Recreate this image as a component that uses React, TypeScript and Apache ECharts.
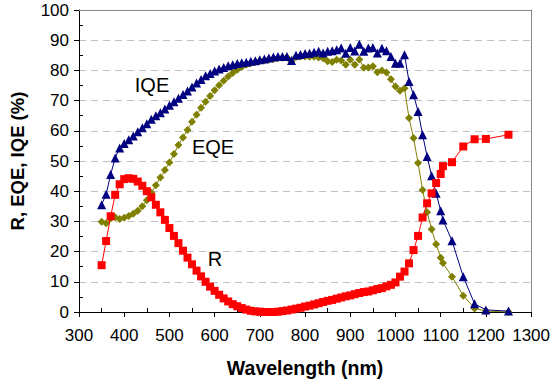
import React, { useEffect, useRef } from "react";
import * as echarts from "echarts";

const wavelengths = [
  350, 360, 370, 380, 390, 400, 410, 420, 430, 440,
  450, 460, 470, 480, 490, 500, 510, 520, 530, 540,
  550, 560, 570, 580, 590, 600, 610, 620, 630, 640,
  650, 660, 670, 680, 690, 700, 710, 720, 730, 740,
  750, 760, 770, 780, 790, 800, 810, 820, 830, 840,
  850, 860, 870, 880, 890, 900, 910, 920, 930, 940,
  950, 960, 970, 980, 990, 1000, 1010, 1020, 1030, 1040,
  1050, 1060, 1070, 1080, 1090, 1100, 1105, 1125, 1150, 1175,
  1200, 1250,
];

const rValues = [
  15.5, 23.5, 31.7, 38.8, 42.3, 44.0, 44.3, 44.1, 43.2, 41.8,
  40.0, 38.0, 35.5, 33.0, 30.5, 27.8, 25.2, 22.8, 20.3, 18.0,
  15.8, 13.7, 11.8, 10.0, 8.4, 7.0, 5.7, 4.5, 3.5, 2.6,
  1.9, 1.3, 0.8, 0.4, 0.2, 0.1, 0.0, 0.0, 0.0, 0.1,
  0.3, 0.5, 0.8, 1.1, 1.4, 1.8, 2.1, 2.5, 2.9, 3.3,
  3.7, 4.0, 4.4, 4.8, 5.2, 5.5, 5.9, 6.3, 6.6, 6.8,
  7.2, 7.6, 7.9, 8.5, 9.0, 9.8, 11.7, 13.4, 16.1, 20.5,
  25.2, 31.3, 36.0, 39.3, 42.7, 45.7, 48.3, 49.6, 54.8, 57.2,
  57.3, 58.7,
];

const eqeValues = [
  29.9, 29.4, 31.0, 31.4, 30.8, 31.2, 31.8, 32.5, 33.5, 35.0,
  37.0, 39.5, 42.0, 44.5, 47.0, 49.5, 52.3, 55.3, 57.8, 60.3,
  63.0, 65.3, 67.6, 69.6, 71.5, 73.4, 75.1, 76.6, 78.0, 79.1,
  80.2, 81.1, 81.9, 82.4, 82.8, 83.1, 83.4, 83.6, 83.8, 84.0,
  84.2, 84.3, 83.0, 84.4, 84.6, 84.6, 84.5, 84.5, 84.3, 84.0,
  83.0, 82.8, 83.5, 83.3, 81.9, 83.5, 81.9, 83.6, 80.9, 81.0,
  81.4, 79.4, 80.0, 79.3, 77.1, 74.7, 73.3, 74.1, 64.2, 57.6,
  49.3, 40.4, 33.0, 27.4, 22.4, 18.0, 16.2, 11.7, 5.4, 1.2,
  0.3, 0.0,
];

const iqeValues = [
  35.5, 39.0, 45.5, 51.0, 54.3, 55.8, 57.0, 58.3, 59.7, 61.0,
  62.3, 63.8, 65.0, 66.0, 67.2, 68.5, 69.6, 70.8, 72.0, 73.2,
  74.5, 75.8, 77.0, 78.2, 79.0, 79.8, 80.5, 81.0, 81.5, 81.9,
  82.3, 82.5, 82.7, 83.0, 83.2, 83.5, 83.8, 84.1, 84.4, 84.6,
  84.6, 84.6, 83.3, 85.0, 85.3, 85.6, 85.7, 86.0, 86.3, 85.8,
  86.3, 86.5, 86.8, 87.4, 85.7, 87.6, 86.4, 88.7, 86.3, 87.4,
  87.6, 85.8, 87.3, 86.5, 84.6, 82.4, 82.4, 85.2, 76.3, 71.9,
  66.4, 58.7, 51.5, 45.1, 39.3, 33.5, 30.5, 23.6, 11.7, 2.7,
  0.7, 0.3,
];

const xTitle = "Wavelength (nm)";
const yTitle = "R, EQE, IQE (%)";
const FONT = "'Liberation Sans', Arial, sans-serif";

const pairs = (vals: number[]) => wavelengths.map((w, i) => [w, vals[i]]);

export default function App() {
  const ref = useRef<HTMLDivElement>(null);
  useEffect(() => {
    document.body.style.margin = "0";
    if (!ref.current) return;
    const chart = echarts.init(ref.current, undefined, { renderer: "svg" });
    const labelStyle = {
      color: "#000",
      fontFamily: FONT,
      fontSize: 17,
      formatter: (v: number) => String(v),
    };
    chart.setOption({
      animation: false,
      backgroundColor: "#fff",
      grid: { left: 79, right: 18, top: 10, bottom: 71, containLabel: false },
      xAxis: [
        {
          type: "value",
          min: 300,
          max: 1300,
          interval: 100,
          position: "bottom",
          name: xTitle,
          nameLocation: "middle",
          nameGap: 46,
          nameTextStyle: { color: "#000", fontFamily: FONT, fontSize: 19.5, fontWeight: "bold" },
          axisLine: { show: true, onZero: false, lineStyle: { color: "#000", width: 1 } },
          axisTick: { show: true, inside: false, length: 5, lineStyle: { color: "#000" } },
          minorTick: { show: true, splitNumber: 2, length: -4, lineStyle: { color: "#000" } },
          axisLabel: { ...labelStyle, margin: 15 },
          splitLine: { show: false },
        },
        {
          type: "value",
          min: 300,
          max: 1300,
          interval: 100,
          position: "top",
          axisLine: { show: true, onZero: false, lineStyle: { color: "#888", width: 1 } },
          axisTick: { show: false },
          axisLabel: { show: false },
          splitLine: { show: false },
        },
      ],
      yAxis: [
        {
          type: "value",
          min: 0,
          max: 100,
          interval: 10,
          position: "left",
          name: yTitle,
          nameLocation: "middle",
          nameGap: 52,
          nameTextStyle: { color: "#000", fontFamily: FONT, fontSize: 18.5, fontWeight: "bold" },
          axisLine: { show: true, onZero: false, lineStyle: { color: "#000", width: 1 } },
          axisTick: { show: true, inside: false, length: 5, lineStyle: { color: "#000" } },
          minorTick: { show: true, splitNumber: 2, length: -4, lineStyle: { color: "#000" } },
          axisLabel: { ...labelStyle, margin: 10 },
          splitLine: { show: true, lineStyle: { color: "#c0c0c0", type: [7, 5], width: 1 } },
        },
        {
          type: "value",
          min: 0,
          max: 100,
          interval: 10,
          position: "right",
          axisLine: { show: true, onZero: false, lineStyle: { color: "#888", width: 1 } },
          axisTick: { show: false },
          axisLabel: { show: false },
          splitLine: { show: false },
        },
      ],
      series: [
        {
          name: "EQE",
          type: "line",
          data: pairs(eqeValues),
          symbol: "diamond",
          symbolSize: 8,
          itemStyle: { color: "#808000" },
          lineStyle: { color: "#808000", width: 1 },
          z: 2,
        },
        {
          name: "IQE",
          type: "line",
          data: pairs(iqeValues),
          symbol: "triangle",
          symbolSize: 9,
          itemStyle: { color: "#000080" },
          lineStyle: { color: "#000080", width: 1 },
          z: 3,
        },
        {
          name: "R",
          type: "line",
          data: pairs(rValues),
          symbol: "rect",
          symbolSize: 8,
          itemStyle: { color: "#ff0000" },
          lineStyle: { color: "#ff0000", width: 1 },
          z: 4,
        },
      ],
      graphic: [
        { type: "text", x: 152, y: 85, style: { text: "IQE", font: `20px ${FONT}`, fill: "#000", textAlign: "center", textVerticalAlign: "middle" } },
        { type: "text", x: 213, y: 147, style: { text: "EQE", font: `20px ${FONT}`, fill: "#000", textAlign: "center", textVerticalAlign: "middle" } },
        { type: "text", x: 215, y: 259, style: { text: "R", font: `20px ${FONT}`, fill: "#000", textAlign: "center", textVerticalAlign: "middle" } },
      ],
    });
    return () => chart.dispose();
  }, []);
  return <div ref={ref} style={{ width: 553, height: 383 }} />;
}
